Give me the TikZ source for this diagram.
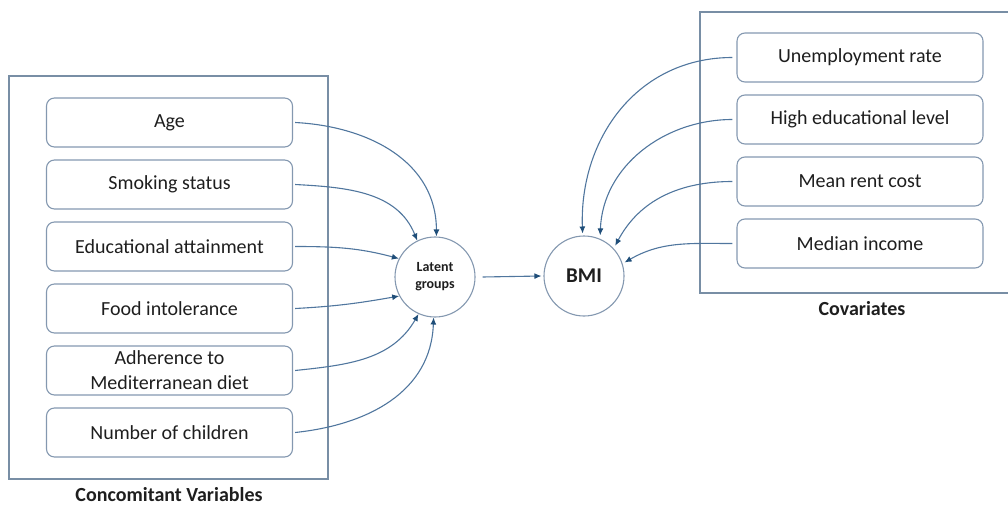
\documentclass[tikz,border=0pt]{standalone}
\usepackage{fontspec}
\setmainfont{Carlito}
\usetikzlibrary{arrows.meta}
\definecolor{boxline}{RGB}{132,152,176}
\definecolor{frameline}{RGB}{120,142,165}
\definecolor{conn}{RGB}{80,118,158}
\definecolor{tipc}{RGB}{31,78,121}
\definecolor{txt}{RGB}{30,30,30}
\begin{document}
\begin{tikzpicture}[x=1pt,y=1pt,
  every node/.style={text=txt, font=\fontsize{20}{25}\selectfont},
  varbox/.style={draw=boxline, line width=1.1pt, rounded corners=8pt, minimum width=246pt, minimum height=49pt, inner sep=0pt, align=center},
  framebox/.style={draw=frameline, line width=1.1pt, inner sep=0pt},
  circ/.style={draw=boxline, line width=1.1pt, circle, minimum size=80pt, inner sep=0pt, align=center},
  conn/.style={draw=conn, line width=1.1pt, -{Latex[length=7pt,width=6pt,color=tipc]}},
  lbl/.style={font=\fontsize{20}{24}\selectfont\bfseries}
]
\useasboundingbox (0,0) rectangle (1008,-505);
% containers
\node[framebox, minimum width=319pt, minimum height=403pt] (conc) at (168.5,-277.5) {};
\node[framebox, minimum width=312pt, minimum height=281pt] (covf) at (856,-152.5) {};
% left boxes
\node[varbox] (age) at (169.5,-122.5) {Age};
\node[varbox] (smk) at (169.5,-184.5) {Smoking status};
\node[varbox] (edu) at (169.5,-246.5) {Educational attainment};
\node[varbox] (food) at (169.5,-308.5) {Food intolerance};
\node[varbox] (med) at (169.5,-370.5) {Adherence to\\Mediterranean diet};
\node[varbox] (chl) at (169.5,-432.5) {Number of children};
% right boxes
\node[varbox] (unemp) at (860,-57.5) {Unemployment rate};
\node[varbox] (hedu) at (860,-119.5) {High educational level};
\node[varbox] (rent) at (860,-181.5) {Mean rent cost};
\node[varbox] (inc) at (860,-243.5) {Median income};
% circles
\node[circ, font=\fontsize{14}{17}\selectfont\bfseries] (lat) at (435,-277) {Latent\\groups};
\node[circ, font=\fontsize{21}{25}\selectfont\bfseries] (bmi) at (584,-276) {BMI};
% labels
\node[lbl] (concl) at (169,-495) {Concomitant Variables};
\node[lbl] (covl) at (862,-309) {Covariates};
% connectors left
\draw[conn] ([xshift=2pt]age.east) to[out=-3, in=90, looseness=1.05] (lat.88);
\draw[conn] ([xshift=2pt]smk.east) to[out=-3, in=112] (lat.116);
\draw[conn] ([xshift=2pt]edu.east) to[out=0, in=165] (lat.153);
\draw[conn] ([xshift=2pt]food.east) to[out=3, in=190] (lat.208);
\draw[conn] ([xshift=2pt]med.east) to[out=6, in=240] (lat.246);
\draw[conn] ([xshift=2pt]chl.east) to[out=6, in=268, looseness=1.05] (lat.268);
% latent to BMI
\draw[conn] ([xshift=7pt]lat.east) -- ([xshift=-2pt]bmi.west);
% connectors right
\draw[conn] ([xshift=-4pt]unemp.west) to[out=180, in=92, looseness=1.05] ([yshift=2pt]bmi.92);
\draw[conn] ([xshift=-4pt]hedu.west) to[out=180, in=88] ([shift={(1pt,3pt)}]bmi.68);
\draw[conn] ([xshift=-4pt]rent.west) to[out=180, in=62] ([shift={(2pt,2pt)}]bmi.44);
\draw[conn] ([xshift=-4pt]inc.west) to[out=180, in=30] ([shift={(2pt,1pt)}]bmi.18);
\end{tikzpicture}
\end{document}
